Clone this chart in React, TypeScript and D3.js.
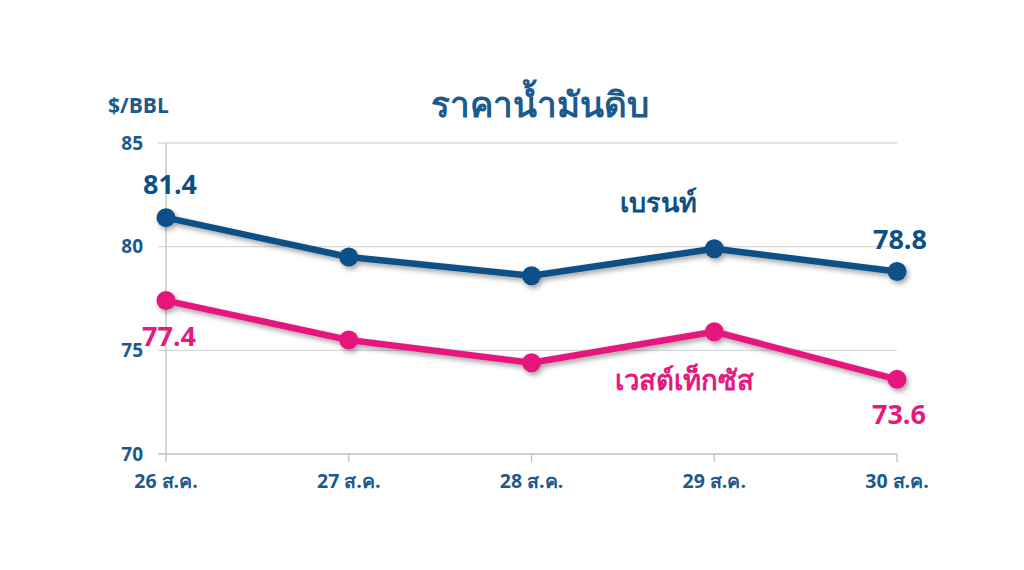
import * as d3 from "d3";
import { useEffect, useRef } from "react";

const categories = ["26 ส.ค.", "27 ส.ค.", "28 ส.ค.", "29 ส.ค.", "30 ส.ค."];
const brent = [81.4, 79.5, 78.6, 79.9, 78.8];
const wti = [77.4, 75.5, 74.4, 75.9, 73.6];
const yTicks = [70, 75, 80, 85];

const BLUE = "#0d4f87";
const PINK = "#e6197f";
const TEXT = "#1b5a8e";
const FONT = "'Open Sans', 'Noto Sans', sans-serif";

const W = 1024;
const H = 570;
const margin = { top: 143, right: 127, bottom: 116, left: 166 };

const App = () => {
  const svgRef = useRef<SVGSVGElement | null>(null);

  useEffect(() => {
    const svg = d3.select(svgRef.current);
    svg.selectAll("*").remove();

    const innerW = W - margin.left - margin.right;
    const innerH = H - margin.top - margin.bottom;

    const x = d3.scalePoint<string>().domain(categories).range([0, innerW]);
    const y = d3.scaleLinear().domain([70, 85]).range([innerH, 0]);

    const defs = svg.append("defs");
    const f = defs.append("filter").attr("id", "shadow").attr("x", "-10%").attr("y", "-30%").attr("width", "120%").attr("height", "160%");
    f.append("feDropShadow").attr("dx", 2).attr("dy", 3).attr("stdDeviation", 2.5).attr("flood-color", "#000").attr("flood-opacity", 0.35);

    svg.append("rect").attr("width", W).attr("height", H).attr("fill", "#fff");

    const g = svg.append("g").attr("transform", `translate(${margin.left},${margin.top})`);

    // gridlines
    g.selectAll("line.grid")
      .data(yTicks)
      .enter()
      .append("line")
      .attr("x1", -8)
      .attr("x2", innerW)
      .attr("y1", d => y(d))
      .attr("y2", d => y(d))
      .attr("stroke", d => (d === 70 ? "#bfbfbf" : "#d9d9d9"))
      .attr("stroke-width", 1.3);

    // y axis line
    g.append("line").attr("x1", 0).attr("x2", 0).attr("y1", 0).attr("y2", innerH).attr("stroke", "#bfbfbf").attr("stroke-width", 1.3);

    // x ticks
    g.selectAll("line.xt")
      .data(categories)
      .enter()
      .append("line")
      .attr("x1", d => x(d)!)
      .attr("x2", d => x(d)!)
      .attr("y1", innerH)
      .attr("y2", innerH + 8)
      .attr("stroke", "#bfbfbf")
      .attr("stroke-width", 1.3);

    g.selectAll("text.yl")
      .data(yTicks)
      .enter()
      .append("text")
      .attr("x", -23)
      .attr("y", d => y(d))
      .attr("dy", "0.35em")
      .attr("text-anchor", "end")
      .attr("font-family", FONT)
      .attr("font-weight", 700)
      .attr("font-size", 19)
      .attr("fill", TEXT)
      .text(d => d);

    g.selectAll("text.xl")
      .data(categories)
      .enter()
      .append("text")
      .attr("x", d => x(d)!)
      .attr("y", innerH + 34)
      .attr("text-anchor", "middle")
      .attr("font-family", FONT)
      .attr("font-weight", 700)
      .attr("font-size", 19.5)
      .attr("fill", TEXT)
      .text(d => d);

    const line = d3
      .line<number>()
      .x((_, i) => x(categories[i])!)
      .y(d => y(d));

    const series = [
      { values: brent, color: BLUE },
      { values: wti, color: PINK },
    ];

    series.forEach(s => {
      const sg = g.append("g").attr("filter", "url(#shadow)");
      sg.append("path")
        .attr("d", line(s.values)!)
        .attr("fill", "none")
        .attr("stroke", s.color)
        .attr("stroke-width", 6.5)
        .attr("stroke-linejoin", "round");
      sg.selectAll("circle")
        .data(s.values)
        .enter()
        .append("circle")
        .attr("cx", (_, i) => x(categories[i])!)
        .attr("cy", d => y(d))
        .attr("r", 9.5)
        .attr("fill", s.color);
    });

    const valueLabel = (i: number, v: number, color: string, dx: number, dy: number) => {
      g.append("text")
        .attr("x", x(categories[i])! + dx)
        .attr("y", y(v) + dy)
        .attr("text-anchor", "middle")
        .attr("font-family", FONT)
        .attr("font-weight", 700)
        .attr("font-size", 27)
        .attr("fill", color)
        .text(v.toFixed(1));
    };
    valueLabel(0, brent[0], BLUE, 4, -24);
    valueLabel(4, brent[4], BLUE, 3, -23);
    valueLabel(0, wti[0], PINK, 3, 45);
    valueLabel(4, wti[4], PINK, 2, 45);

    g.append("text")
      .attr("x", x(categories[2])! + 127)
      .attr("y", y(brent[3]) - 37)
      .attr("text-anchor", "middle")
      .attr("font-family", FONT)
      .attr("font-weight", 700)
      .attr("font-size", 27)
      .attr("fill", BLUE)
      .text("เบรนท์");

    g.append("text")
      .attr("x", x(categories[2])! + 153)
      .attr("y", y(wti[3]) + 58)
      .attr("text-anchor", "middle")
      .attr("font-family", FONT)
      .attr("font-weight", 700)
      .attr("font-size", 27.5)
      .attr("fill", PINK)
      .text("เวสต์เท็กซัส");

    svg.append("text")
      .attr("x", 540)
      .attr("y", 117)
      .attr("text-anchor", "middle")
      .attr("font-family", FONT)
      .attr("font-weight", 700)
      .attr("font-size", 35)
      .attr("fill", TEXT)
      .text("ราคาน้ำมันดิบ");

    svg.append("text")
      .attr("x", 108)
      .attr("y", 113)
      .attr("font-family", FONT)
      .attr("font-weight", 700)
      .attr("font-size", 21)
      .attr("fill", TEXT)
      .text("$/BBL");
  }, []);

  return (
    <svg ref={svgRef} width={W} height={H} style={{ position: "absolute", left: 0, top: 0 }}></svg>
  );
};

export default App;
